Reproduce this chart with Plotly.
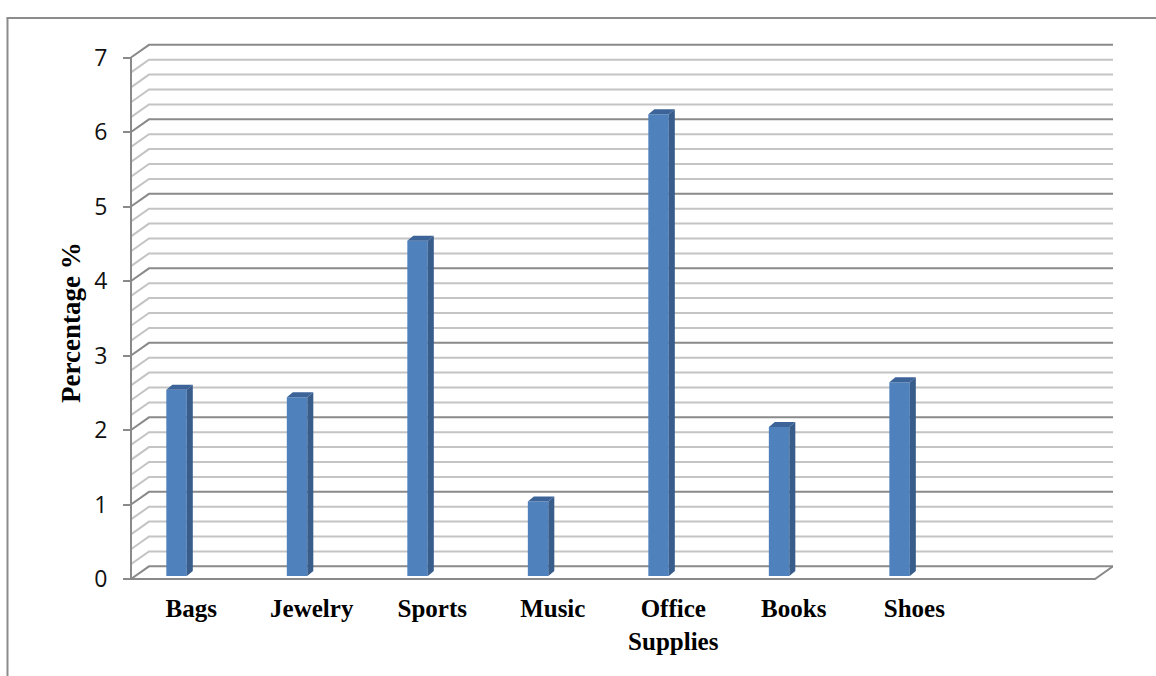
import plotly.graph_objects as go

# ---------------- data ----------------
categories = ["Bags", "Jewelry", "Sports", "Music", "Office Supplies", "Books", "Shoes"]
values = [2.5, 2.4, 4.5, 1.0, 6.2, 2.0, 2.6]
y_tick_values = [0, 1, 2, 3, 4, 5, 6, 7]
y_title = "Percentage %"

# ---------------- geometry (styling) ----------------
W, H = 1156, 676
PX_X = 120.5          # pixels per category slot
PX_Y = 74.5           # pixels per unit
x_front = -0.5
x_back_end = 7.649
dxu = 18 / PX_X       # depth offset of back wall (x units)
dyu = 12.7 / PX_Y     # depth offset of back wall (y units)
x_rng = [-0.5332, x_back_end]
y_rng = [-0.067, 7.235]
m_l, m_t = 127, 40
plot_w = (x_rng[1] - x_rng[0]) * PX_X
plot_h = (y_rng[1] - y_rng[0]) * PX_Y
m_r = W - m_l - plot_w
m_b = H - m_t - plot_h

bar_w = 0.17
bar_off = -0.207
bar_base = 0.04
sx = 6 / PX_X
sy = 5 / PX_Y

front_col = "#4f81bd"
side_col = "#385d8a"
top_col = "#3d6499"
major_col = "#8a8a8a"
minor_col = "#c4c4c4"

fig = go.Figure()

# front faces of the bars
xs = list(range(len(categories)))
fig.add_trace(go.Bar(
    x=xs, y=values, base=bar_base, width=bar_w, offset=bar_off,
    marker=dict(color=front_col, line=dict(width=0)),
    hoverinfo="skip", showlegend=False,
))

# side and top faces derived from the data
side_x, side_y, top_x, top_y = [], [], [], []
for i, v in zip(xs, values):
    xl = i + bar_off
    xr = xl + bar_w
    b = bar_base
    t = v + bar_base
    side_x += [xr, xr + sx, xr + sx, xr, xr, None]
    side_y += [b, b + sy, t + sy, t, b, None]
    top_x += [xl, xl + sx, xr + sx, xr, xl, None]
    top_y += [t, t + sy, t + sy, t, t, None]

fig.add_trace(go.Scatter(x=side_x, y=side_y, mode="lines", fill="toself",
                         fillcolor=side_col, line=dict(width=0, color=side_col),
                         hoverinfo="skip", showlegend=False))
fig.add_trace(go.Scatter(x=top_x, y=top_y, mode="lines", fill="toself",
                         fillcolor=top_col, line=dict(width=0, color=top_col),
                         hoverinfo="skip", showlegend=False))

# back wall gridlines with the left-side diagonals
shapes = []
n_levels = int(round(max(y_tick_values) / 0.2))
for k in range(n_levels + 1):
    v = k * 0.2
    major = (k % 5 == 0)
    col = major_col if major else minor_col
    path = (f"M {x_front},{v} L {x_front + dxu},{v + dyu} "
            f"L {x_back_end},{v + dyu}")
    shapes.append(dict(type="path", path=path, xref="x", yref="y",
                       line=dict(color=col, width=2), layer="below"))

# floor: right diagonal and front edge
floor_front_end = x_back_end - dxu
shapes.append(dict(type="path",
                   path=f"M {x_back_end},{dyu} L {floor_front_end},0 L {x_front},0",
                   xref="x", yref="y", line=dict(color=major_col, width=2),
                   layer="below"))
# front vertical axis line
shapes.append(dict(type="line", x0=x_front, x1=x_front, y0=0, y1=max(y_tick_values),
                   xref="x", yref="y", line=dict(color=major_col, width=2),
                   layer="below"))

# outer frame lines (pixel -> paper)
def px_to_paper_x(p):
    return (p - m_l) / plot_w

def px_to_paper_y(q):
    return (m_t + plot_h - q) / plot_h

shapes.append(dict(type="line", xref="paper", yref="paper",
                   x0=px_to_paper_x(7.5), x1=px_to_paper_x(7.5),
                   y0=px_to_paper_y(18), y1=px_to_paper_y(680),
                   line=dict(color="#8c8c8c", width=2)))
shapes.append(dict(type="line", xref="paper", yref="paper",
                   x0=px_to_paper_x(6.5), x1=px_to_paper_x(1160),
                   y0=px_to_paper_y(18), y1=px_to_paper_y(18),
                   line=dict(color="#8c8c8c", width=2)))

fig.update_layout(
    width=W, height=H,
    margin=dict(l=m_l, r=m_r, t=m_t, b=m_b, pad=0),
    paper_bgcolor="white", plot_bgcolor="white",
    shapes=shapes,
    showlegend=False,
    xaxis=dict(range=x_rng, showgrid=False, zeroline=False, showline=False,
               tickmode="array", tickvals=xs,
               ticktext=[c.replace(" ", "<br>") for c in categories],
               ticks="", ticklabelstandoff=7,
               tickfont=dict(family="Liberation Serif", size=25, color="black",
                             weight="bold")),
    yaxis=dict(range=y_rng, showgrid=False, zeroline=False, showline=False,
               tickmode="array", tickvals=y_tick_values,
               ticks="outside", ticklen=8, tickwidth=2, tickcolor=major_col,
               anchor="free", position=(-x_rng[0] + x_front) / (x_rng[1] - x_rng[0]),
               ticklabelstandoff=11,
               tickfont=dict(family="Open Sans", size=23, color="#111111")),
    annotations=[dict(
        text=y_title, xref="paper", yref="paper",
        x=px_to_paper_x(71), y=px_to_paper_y(322),
        textangle=-90, showarrow=False, xanchor="center", yanchor="middle",
        font=dict(family="Liberation Serif", size=27, color="black", weight="bold"),
    )],
)

fig.write_html("out.html")
